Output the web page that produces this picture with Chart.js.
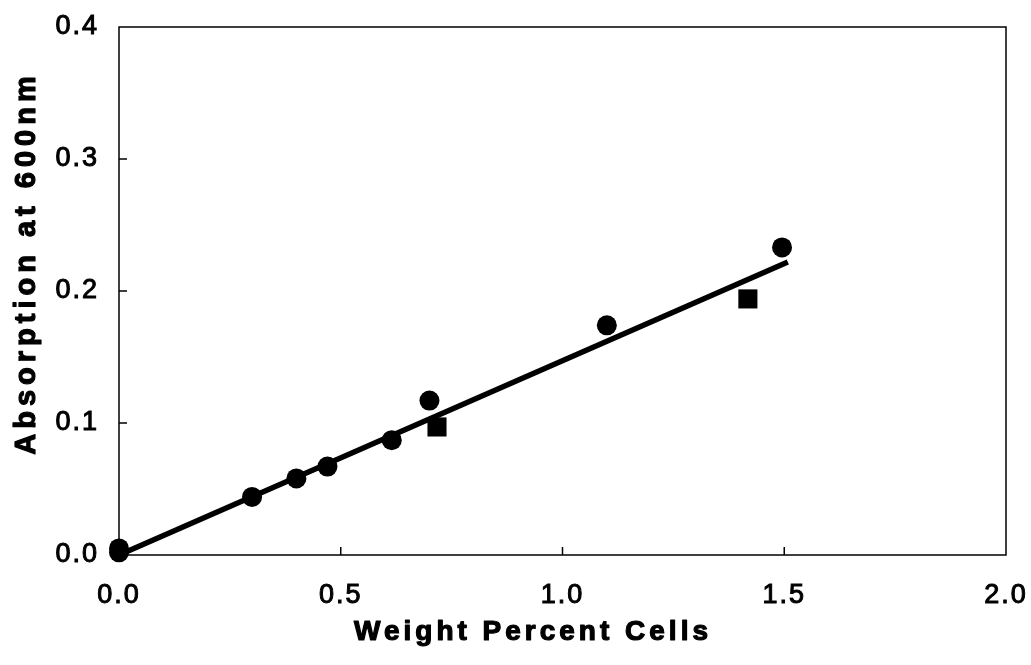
<!DOCTYPE html>
<html lang="en">
<head>
<meta charset="UTF-8">
<title>Absorption at 600nm vs Weight Percent Cells</title>
<script src="https://cdn.jsdelivr.net/npm/chart.js"></script>
<style>
  body { margin: 0; background: #fff; }
  #wrap { width: 1031px; height: 665px; }
</style>
</head>
<body>
<div id="wrap"><canvas id="absChart" width="1031" height="665"></canvas></div>
<script>
  // data
  const circleX = [0, 0, 0.30, 0.40, 0.47, 0.615, 0.70, 1.10, 1.495];
  const circleY = [0.005, 0.002, 0.044, 0.058, 0.067, 0.087, 0.117, 0.174, 0.233];
  const squareX = [0.717, 1.418];
  const squareY = [0.097, 0.194];
  const fitX = [0, 1.508];
  const fitY = [0, 0.222];
  const xTicks = [0, 0.5, 1.0, 1.5, 2.0];
  const yTicks = [0, 0.1, 0.2, 0.3, 0.4];
  const xTitle = 'Weight Percent Cells';
  const yTitle = 'Absorption at 600nm';

  const pts = (xs, ys) => xs.map((x, i) => ({ x, y: ys[i] }));

  // no extra room for overflowing end labels, the layout padding decides
  const noPad = s => {
    s.paddingLeft = 0; s.paddingRight = 0;
    s.paddingTop = 0; s.paddingBottom = 0;
  };

  // box round the plot + short inward tick marks, titles drawn by hand
  const frame = {
    id: 'frame',
    beforeDraw(chart) {
      chart.ctx.letterSpacing = '2px';
    },
    beforeDatasetsDraw(chart) {
      const { ctx, chartArea: a, scales } = chart;
      ctx.save();
      ctx.strokeStyle = '#000';
      ctx.lineWidth = 1.5;
      ctx.strokeRect(a.left, a.top, a.right - a.left, a.bottom - a.top);
      ctx.beginPath();
      xTicks.slice(1, -1).forEach(v => {
        const px = scales.x.getPixelForValue(v);
        ctx.moveTo(px, a.bottom);
        ctx.lineTo(px, a.bottom - 8);
      });
      yTicks.slice(1, -1).forEach(v => {
        const py = scales.y.getPixelForValue(v);
        ctx.moveTo(a.left, py);
        ctx.lineTo(a.left + 8, py);
      });
      ctx.stroke();
      ctx.restore();
    },
    afterDraw(chart) {
      const { ctx } = chart;
      ctx.save();
      ctx.fillStyle = '#000';
      ctx.strokeStyle = '#000';
      ctx.lineWidth = 1.2;
      ctx.lineJoin = 'round';
      ctx.font = 'bold 28px "Liberation Sans", Arial, sans-serif';
      ctx.letterSpacing = '4px';
      ctx.textAlign = 'center';
      ctx.textBaseline = 'alphabetic';
      ctx.fillText(xTitle, 533, 640);
      ctx.strokeText(xTitle, 533, 640);
      ctx.translate(35, 263);
      ctx.rotate(-Math.PI / 2);
      ctx.font = 'bold 29px "Liberation Sans", Arial, sans-serif';
      ctx.letterSpacing = '5px';
      ctx.fillText(yTitle, 0, 0);
      ctx.strokeText(yTitle, 0, 0);
      ctx.restore();
    }
  };

  const tickFont = { family: '"Liberation Sans", Arial, sans-serif', size: 27 };

  new Chart(document.getElementById('absChart'), {
    type: 'scatter',
    data: {
      datasets: [
        {
          type: 'line',
          label: 'fit',
          data: pts(fitX, fitY),
          borderColor: '#000',
          borderWidth: 5.5,
          pointRadius: 0,
          fill: false,
          clip: false
        },
        {
          label: 'circles',
          data: pts(circleX, circleY),
          pointStyle: 'circle',
          pointRadius: 10,
          backgroundColor: '#000',
          borderColor: '#000',
          borderWidth: 0,
          clip: false
        },
        {
          label: 'squares',
          data: pts(squareX, squareY),
          pointStyle: 'rect',
          pointRadius: 13.5,
          backgroundColor: '#000',
          borderColor: '#000',
          borderWidth: 0,
          clip: false
        }
      ]
    },
    options: {
      responsive: false,
      animation: false,
      layout: { padding: { left: 0, top: 27, right: 25, bottom: 0 } },
      plugins: {
        legend: { display: false },
        tooltip: { enabled: false }
      },
      scales: {
        x: {
          type: 'linear',
          min: 0, max: 2,
          afterBuildTicks: s => { s.ticks = xTicks.map(v => ({ value: v })); },
          afterFit: s => { s.height = 110; noPad(s); },
          grid: { display: false, drawTicks: false },
          border: { display: false },
          ticks: {
            color: '#000', font: tickFont, padding: 24,
            textStrokeColor: '#000', textStrokeWidth: 1,
            maxRotation: 0,
            callback: v => v.toFixed(1)
          }
        },
        y: {
          type: 'linear',
          min: 0, max: 0.4,
          afterBuildTicks: s => { s.ticks = yTicks.map(v => ({ value: v })); },
          afterFit: s => { s.width = 119; noPad(s); },
          grid: { display: false, drawTicks: false },
          border: { display: false },
          ticks: {
            color: '#000', font: tickFont, padding: 20,
            textStrokeColor: '#000', textStrokeWidth: 1,
            callback: v => v.toFixed(1)
          }
        }
      }
    },
    plugins: [frame]
  });
</script>
</body>
</html>
